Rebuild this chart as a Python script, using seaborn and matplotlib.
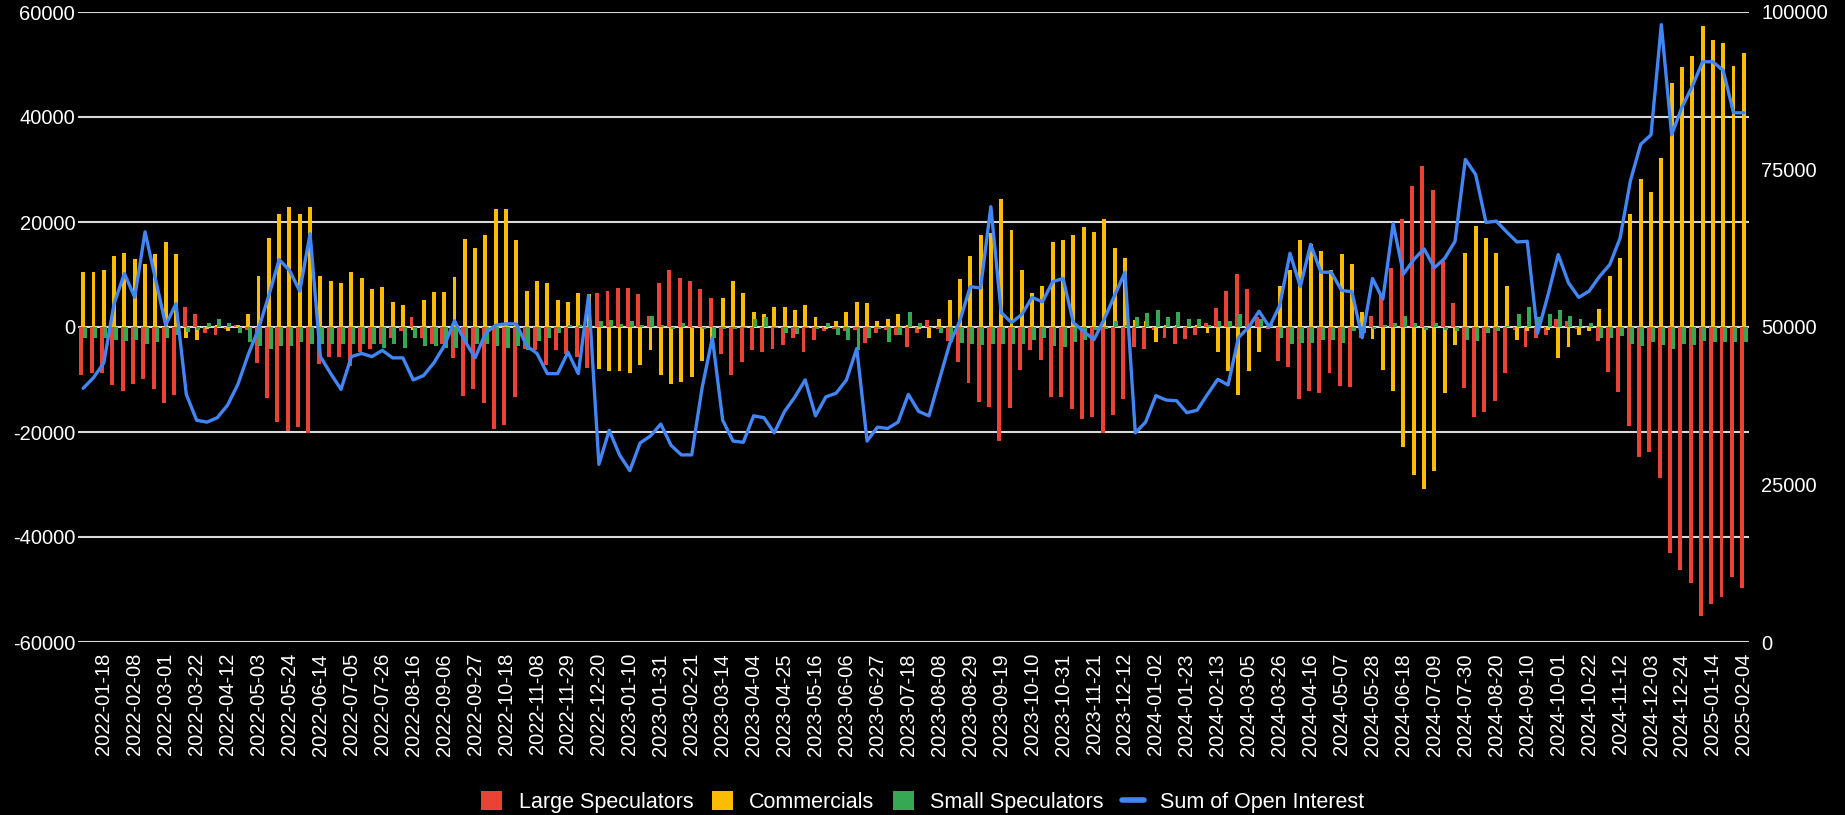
import numpy as np
import pandas as pd
import matplotlib
matplotlib.use('Agg')
import matplotlib.pyplot as plt
import seaborn as sns
from matplotlib.patches import Patch
from matplotlib.lines import Line2D

# weekly report dates (categories)
weeks = list(pd.date_range('2022-01-04', '2025-02-04', freq='7D').strftime('%Y-%m-%d'))

large_specs = [
    -9100, -8850, -8850, -11100, -12240, -10870, -9820, -11830, -14490, -12880,
    3780, 2400, -1200, -1600, -300, 400, -600, -6840, -13500, -18100,
    -19720, -19080, -20125, -7000, -5630, -5800, -7490, -4830, -4270, -3200,
    -2000, -800, 1850, -2000, -3200, -3200, -5880, -13100, -11830, -14490,
    -19480, -18760, -13280, -4270, -4430, -7250, -4430, -5230, -5630, -7800,
    6440, 6840, 7400, 7400, 6200, 2170, 8450, 10870, 9260, 8850,
    7160, 5470, -5230, -9100, -6680, -4430, -4830, -4270, -3460, -2000,
    -4830, -2400, -800, -300, -800, -600, -3000, -1050, -500, -1450,
    -3860, -1050, 1370, -300, -2650, -6680, -10700, -14330, -15300, -21700,
    -15500, -8200, -4430, -6280, -13280, -13280, -15540, -17550, -17150, -20125,
    -16700, -13800, -3780, -4270, -500, -2000, -3200, -2250, -1450, 800,
    3620, 6840, 10060, 7160, 1850, -300, -6440, -7650, -13700, -12100,
    -12480, -8850, -11270, -11430, -2000, 2170, 6280, 11190, 20530, 26800,
    30750, 26160, 12480, 4590, -11670, -17150, -16100, -14090, -8850, -500,
    -3780, -2000, -1600, 1600, 1050, -300, -200, -2650, -8610, -12320,
    -18900, -24800, -23750, -28800, -43070, -46300, -48700, -54980, -52700, -51500,
    -47600, -49700,
]

commercials = [
    10465, 10465, 10870, 13520, 14090, 12880, 12075, 13850, 16100, 13850,
    -2000, -2400, -300, 300, -800, 400, 2500, 9800, 16900, 21500,
    22780, 21500, 22780, 9800, 8850, 8450, 10465, 9260, 7160, 7570,
    4830, 4270, -500, 5230, 6600, 6600, 9500, 16800, 15130, 17470,
    22540, 22540, 16500, 6840, 8850, 8450, 5070, 4830, 6440, 6200,
    -8050, -8450, -8450, -8850, -7250, -4430, -9100, -10870, -10465, -9500,
    -6440, -2500, 5470, 8850, 6440, 2820, 2400, 3860, 3860, 3220,
    4270, 1850, -400, 1200, 2820, 4830, 4590, 1200, 1450, 2400,
    300, -300, -2000, 1450, 5070, 9100, 13520, 17470, 18000, 24400,
    18500, 10870, 6440, 7800, 16100, 16500, 17470, 19080, 18100, 20500,
    15130, 13100, 1370, 1200, -2800, 300, 400, 200, 300, -1200,
    -4830, -8290, -12880, -8290, -4830, 300, 7800, 10870, 16500, 15860,
    14490, 10870, 13850, 12075, 2820, -2250, -8200, -12240, -22780, -28180,
    -30830, -27370, -12480, -3460, 14090, 19160, 16900, 14090, 7800, -2400,
    -800, 400, -500, -5870, -3780, -1600, -800, 3460, 9800, 13100,
    21500, 28200, 25760, 32200, 46400, 49500, 51700, 57400, 54740, 54100,
    49750, 52100,
]

small_specs = [
    -2000, -2000, -2000, -2400, -2650, -2400, -3200, -2800, -2000, -1600,
    -1000, -500, 800, 1450, 800, -1200, -2800, -3600, -4270, -3600,
    -3600, -2800, -3200, -3200, -3200, -3200, -3200, -3200, -3200, -4000,
    -3200, -4000, -2000, -3600, -3600, -4000, -4000, -3200, -3200, -3200,
    -3600, -4000, -3600, -4400, -2650, -2000, -1200, 400, 400, 1200,
    1200, 1370, 560, 1050, 400, 2170, 400, -400, 800, -240,
    -300, -2000, -400, -300, -200, 1450, 1850, -200, -1050, -1370,
    -200, -300, 800, -1450, -2400, -4430, -2000, -300, -2800, -1600,
    2820, 800, -200, -1200, -2800, -3000, -3200, -3400, -3200, -3200,
    -3200, -3200, -2400, -2000, -3600, -3800, -2800, -2400, -500, -400,
    1050, 400, 1850, 2580, 3220, 1850, 2820, 1450, 1450, 300,
    1200, 1050, 2400, 500, 1600, 500, -2000, -3200, -3000, -3000,
    -2400, -2400, -3000, -800, -1200, -400, 400, 800, 2170, 800,
    -560, 800, -560, -800, -2400, -2650, -1200, -800, 240, 2400,
    3860, 1850, 2400, 3220, 2170, 1450, 800, -2000, -2000, -1770,
    -3200, -3600, -2800, -3460, -4270, -3200, -3460, -2650, -2800, -2800,
    -2800, -2800,
]

open_interest = [
    40270, 41950, 44300, 53700, 58500, 54700, 65100, 57700, 50300, 53700,
    39300, 35200, 34900, 35600, 37600, 40900, 45600, 49700, 55000, 60700,
    59000, 55700, 64800, 45300, 42600, 40100, 45300, 45800, 45300, 46300,
    45100, 45100, 41600, 42300, 44300, 47000, 51000, 47800, 45100, 49000,
    50300, 50500, 50500, 47000, 45800, 42600, 42600, 46000, 42600, 55000,
    28200, 33600, 29700, 27200, 31600, 32700, 34600, 31200, 29700, 29700,
    40300, 48300, 35200, 31900, 31700, 35900, 35600, 33200, 36600, 38900,
    41600, 35900, 38900, 39500, 41600, 46600, 31900, 34100, 33900, 34900,
    39300, 36600, 35900, 41600, 47300, 51000, 56400, 56200, 69100, 52300,
    50700, 52000, 54700, 54000, 57200, 57700, 50700, 49300, 48000, 51300,
    55000, 58700, 33200, 34900, 39100, 38400, 38300, 36400, 36800, 39300,
    41700, 40800, 48300, 50000, 52500, 50000, 53400, 61700, 56400, 63100,
    58700, 58700, 55800, 55600, 48300, 57700, 54400, 66400, 58400, 60700,
    62400, 59400, 60900, 63600, 76600, 74200, 66600, 66800, 65100, 63500,
    63600, 49000, 55000, 61500, 57000, 54700, 55700, 58000, 59900, 64100,
    73200, 79000, 80500, 98000, 80500, 84900, 88200, 92100, 92100, 90700,
    84000, 84000,
]

tick_labels = [
    '2022-01-18', '2022-02-08', '2022-03-01', '2022-03-22', '2022-04-12', '2022-05-03',
    '2022-05-24', '2022-06-14', '2022-07-05', '2022-07-26', '2022-08-16', '2022-09-06',
    '2022-09-27', '2022-10-18', '2022-11-08', '2022-11-29', '2022-12-20', '2023-01-10',
    '2023-01-31', '2023-02-21', '2023-03-14', '2023-04-04', '2023-04-25', '2023-05-16',
    '2023-06-06', '2023-06-27', '2023-07-18', '2023-08-08', '2023-08-29', '2023-09-19',
    '2023-10-10', '2023-10-31', '2023-11-21', '2023-12-12', '2024-01-02', '2024-01-23',
    '2024-02-13', '2024-03-05', '2024-03-26', '2024-04-16', '2024-05-07', '2024-05-28',
    '2024-06-18', '2024-07-09', '2024-07-30', '2024-08-20', '2024-09-10', '2024-10-01',
    '2024-10-22', '2024-11-12', '2024-12-03', '2024-12-24', '2025-01-14', '2025-02-04',
]

series_names = ['Large Speculators', 'Commercials', 'Small Speculators']
colors = ['#EA4335', '#FBBC04', '#34A853']
line_color = '#4285F4'

df = pd.DataFrame({'week': weeks,
                   'Large Speculators': large_specs,
                   'Commercials': commercials,
                   'Small Speculators': small_specs})
long = df.melt(id_vars='week', var_name='group', value_name='net')

sns.set_style('dark', {'axes.facecolor': 'black', 'figure.facecolor': 'black'})
plt.rcParams['font.family'] = ['Liberation Sans', 'DejaVu Sans']
plt.rcParams['axes.unicode_minus'] = False

fig = plt.figure(figsize=(18.45, 8.15), dpi=100, facecolor='black')
ax = fig.add_axes([78 / 1845, 1 - 642 / 815, (1749 - 78) / 1845, 630 / 815])
ax.set_facecolor('black')

sns.barplot(data=long, x='week', y='net', hue='group', hue_order=series_names,
            palette=colors, dodge=True, width=0.5, saturation=1,
            errorbar=None, legend=False, ax=ax)

# widen bars a bit so each group overlaps like the original
for p in ax.patches:
    c = p.get_x() + p.get_width() / 2
    p.set_width(0.38)
    p.set_x(c - 0.19)
    p.set_linewidth(0)

ax.set_ylim(-60000, 60000)
ax.set_yticks(range(-60000, 60001, 20000))
ax.set_xlim(-0.5, len(weeks) - 0.5)
ax.set_xticks([weeks.index(t) for t in tick_labels])
ax.set_xticklabels(tick_labels, rotation=90)
ax.yaxis.grid(True, color='#d9d9d9', lw=1.5)
ax.xaxis.grid(False)
ax.set_axisbelow(True)
ax.set_xlabel('')
ax.set_ylabel('')
ax.tick_params(axis='x', colors='white', labelsize=14.5, length=0, pad=8)
ax.tick_params(axis='y', colors='white', labelsize=14.5, length=0, pad=2)
for s in ax.spines.values():
    s.set_visible(False)

ax2 = ax.twinx()
sns.lineplot(x=np.arange(len(weeks)), y=open_interest, ax=ax2,
             color=line_color, lw=2.4)
ax2.set_ylim(0, 100000)
ax2.set_yticks([0, 25000, 50000, 75000, 100000])
ax2.grid(False)
ax2.set_ylabel('')
ax2.tick_params(axis='y', colors='white', labelsize=14.5, length=0, pad=9)
for s in ax2.spines.values():
    s.set_visible(False)

handles = [Patch(facecolor=c, edgecolor='none') for c in colors]
handles.append(Line2D([], [], color=line_color, lw=4))
fig.legend(handles, series_names + ['Sum of Open Interest'],
           loc='center', bbox_to_anchor=(0.5, 1 - 802 / 815), ncol=4,
           frameon=False, fontsize=15.5, labelcolor='white',
           handlelength=1.0, handleheight=1.0, handletextpad=0.75,
           columnspacing=0.85)

fig.savefig('out.png', dpi=100, facecolor='black')
